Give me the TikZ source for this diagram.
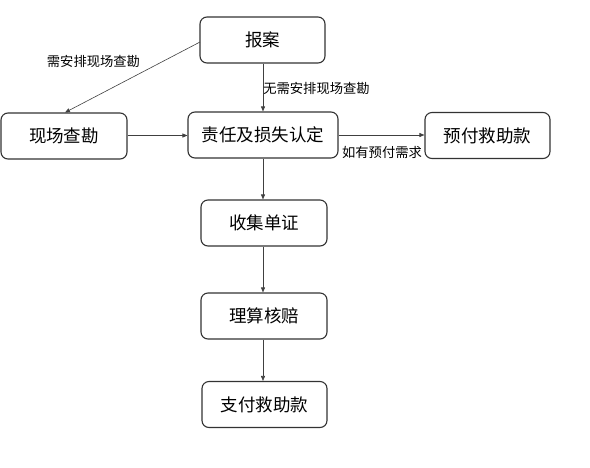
\documentclass[tikz,border=0pt]{standalone}
\usepackage{fontspec}
\setmainfont{Noto Sans CJK SC}
\usetikzlibrary{arrows.meta}
\begin{document}
\begin{tikzpicture}[x=1pt,y=-1pt,
  box/.style={draw=black!80,line width=1.1pt,rounded corners=7pt,minimum width=125pt,minimum height=46pt,inner sep=0pt,font=\fontsize{17.5}{19}\selectfont,fill=white},
  lbl/.style={font=\fontsize{13.3}{15}\selectfont,inner sep=0pt},
  conn/.style={draw=black!75,line width=0.6pt,-{Triangle[length=5pt,width=4pt]}}]
\useasboundingbox (0,0) rectangle (590,467);
\node[box] (baoan) at (262.5,40) {报案};
\node[box,minimum width=126pt] (kancha) at (64,136) {现场查勘};
\node[box,minimum width=150pt] (zeren) at (263,135) {责任及损失认定};
\node[box] (yufu) at (487.5,135.5) {预付救助款};
\node[box,minimum width=126pt] (shouji) at (264,223) {收集单证};
\node[box,minimum width=126pt] (lisuan) at (264,316) {理算核赔};
\node[box] (zhifu) at (264.5,404.5) {支付救助款};
\coordinate (a1) at (200,42);
\coordinate (a2) at (65,112.5);
\draw[conn] (a1) -- (a2);
\draw[conn] (baoan.south -| 263,0) -- (zeren.north -| 263,0);
\draw[conn] (kancha.east |- 0,135.5) -- (zeren.west |- 0,135.5);
\draw[conn] (zeren.east |- 0,135) -- (yufu.west |- 0,135);
\draw[conn] (zeren.south -| 263,0) -- (shouji.north -| 263,0);
\draw[conn] (shouji.south -| 263,0) -- (lisuan.north -| 263,0);
\draw[conn] (lisuan.south -| 263,0) -- (zhifu.north -| 263,0);
\node[lbl] (l1) at (93.5,61) {需安排现场查勘};
\node[lbl] (l2) at (316.5,88) {无需安排现场查勘};
\node[lbl] (l3) at (382,152.5) {如有预付需求};
\end{tikzpicture}
\end{document}
